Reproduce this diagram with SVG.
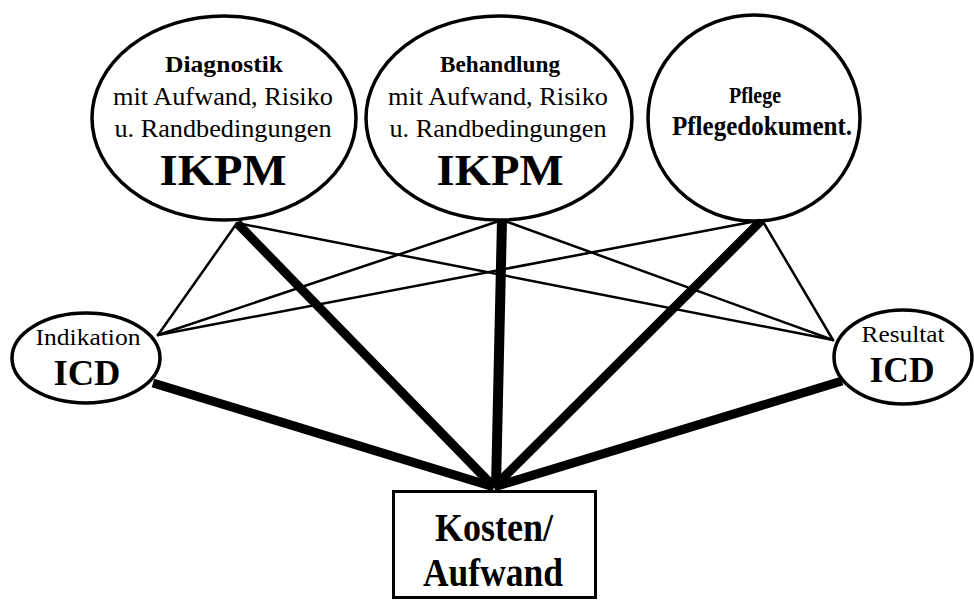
<svg xmlns="http://www.w3.org/2000/svg" width="974" height="600" viewBox="0 0 974 600">
<style>
.n{fill:#fff;stroke:#000;stroke-width:3.5}
.t{font-family:"Liberation Serif","Times New Roman",serif;fill:#000;text-anchor:middle}
.b{font-weight:bold}
.thin{stroke:#000;stroke-width:2.5;fill:none;stroke-linecap:round}
.thick{stroke:#000;stroke-width:9;fill:none}
</style>
<rect width="974" height="600" fill="#fff"/>
<g id="connectors">
<line class="thin" x1="237" y1="223" x2="158" y2="335"/>
<line class="thin" x1="237" y1="223" x2="833" y2="340"/>
<line class="thin" x1="502" y1="220" x2="158" y2="335"/>
<line class="thin" x1="502" y1="220" x2="833" y2="340"/>
<line class="thin" x1="762" y1="220" x2="158" y2="335"/>
<line class="thin" x1="762" y1="220" x2="833" y2="340"/>
<line class="thick" x1="237" y1="223" x2="494" y2="487"/>
<line class="thick" x1="502" y1="220" x2="496" y2="487" style="stroke-width:10"/>
<line class="thick" x1="762" y1="220" x2="494" y2="487"/>
<line class="thick" x1="153" y1="383" x2="494" y2="487"/>
<line class="thick" x1="842" y1="381" x2="494" y2="487"/>
</g>
<g id="diagnostik">
<ellipse class="n" cx="224" cy="118" rx="132" ry="102"/>
<text class="t b" x="224" y="72" font-size="24" textLength="118" lengthAdjust="spacingAndGlyphs">Diagnostik</text>
<text class="t" x="223" y="105" font-size="25" textLength="220" lengthAdjust="spacingAndGlyphs">mit Aufwand, Risiko</text>
<text class="t" x="223" y="137" font-size="25" textLength="217" lengthAdjust="spacingAndGlyphs">u. Randbedingungen</text>
<text class="t b" x="223" y="185" font-size="44" textLength="127" lengthAdjust="spacingAndGlyphs">IKPM</text>
</g>
<g id="behandlung">
<ellipse class="n" cx="499" cy="118" rx="133" ry="102"/>
<text class="t b" x="500" y="72" font-size="24" textLength="120" lengthAdjust="spacingAndGlyphs">Behandlung</text>
<text class="t" x="498" y="105" font-size="25" textLength="220" lengthAdjust="spacingAndGlyphs">mit Aufwand, Risiko</text>
<text class="t" x="498" y="137" font-size="25" textLength="217" lengthAdjust="spacingAndGlyphs">u. Randbedingungen</text>
<text class="t b" x="500" y="185" font-size="44" textLength="127" lengthAdjust="spacingAndGlyphs">IKPM</text>
</g>
<g id="pflege">
<ellipse class="n" cx="754" cy="118" rx="106" ry="103"/>
<text class="t b" x="755" y="103" font-size="23" textLength="52" lengthAdjust="spacingAndGlyphs">Pflege</text>
<text class="t b" x="762" y="135" font-size="27" textLength="180" lengthAdjust="spacingAndGlyphs">Pflegedokument.</text>
</g>
<g id="indikation">
<ellipse class="n" cx="86" cy="358" rx="74" ry="45"/>
<text class="t" x="88" y="345" font-size="24" textLength="105" lengthAdjust="spacingAndGlyphs">Indikation</text>
<text class="t b" x="87" y="385" font-size="36" textLength="67" lengthAdjust="spacingAndGlyphs">ICD</text>
</g>
<g id="resultat">
<ellipse class="n" cx="903" cy="357" rx="69" ry="47"/>
<text class="t" x="903" y="342" font-size="23" textLength="83" lengthAdjust="spacingAndGlyphs">Resultat</text>
<text class="t b" x="902" y="382" font-size="36" textLength="65" lengthAdjust="spacingAndGlyphs">ICD</text>
</g>
<g id="kosten">
<rect x="393.5" y="491.5" width="202" height="106" fill="#fff" stroke="#000" stroke-width="3"/>
<text class="t b" x="494" y="541" font-size="41" textLength="118" lengthAdjust="spacingAndGlyphs">Kosten/</text>
<text class="t b" x="493" y="586" font-size="41" textLength="140" lengthAdjust="spacingAndGlyphs">Aufwand</text>
</g>
</svg>
